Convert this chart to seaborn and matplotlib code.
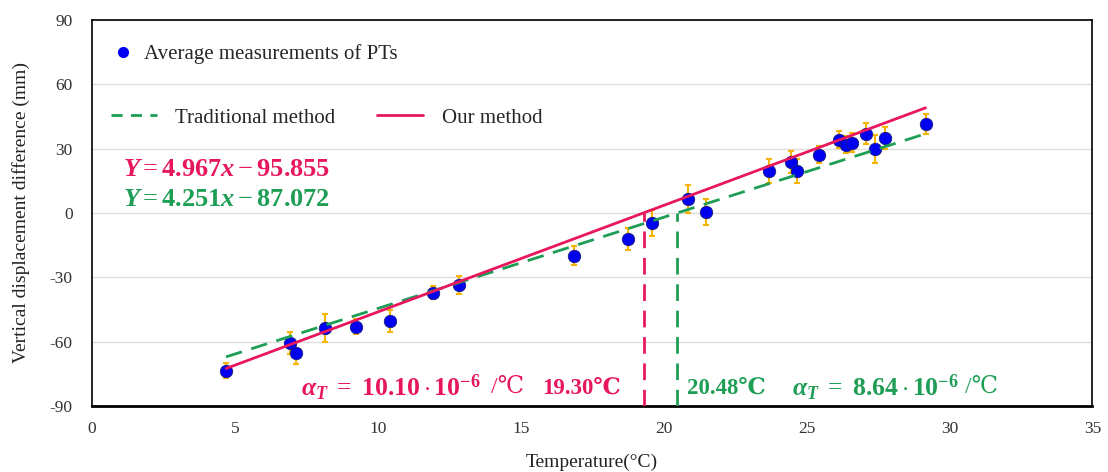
import matplotlib
matplotlib.use("Agg")
import matplotlib.pyplot as plt
import numpy as np
import pandas as pd
import seaborn as sns

# data
temp = [4.69, 6.92, 7.13, 8.15, 9.23, 10.42, 11.92, 12.83, 16.85, 18.74, 19.58,
        20.84, 21.47, 23.67, 24.44, 24.65, 25.45, 26.15, 26.36, 26.57, 27.06,
        27.38, 27.73, 29.16]
disp = [-73.7, -60.7, -65.3, -53.7, -53.2, -50.4, -37.3, -33.6, -20.0, -12.1, -4.7,
        6.5, 0.5, 19.6, 23.8, 19.6, 27.1, 34.1, 31.7, 32.7, 36.9,
        29.9, 35.0, 41.5]
err = [3.5, 5.0, 5.0, 6.5, 3.5, 5.0, 3.0, 4.0, 4.5, 5.0, 6.0,
       6.5, 6.0, 5.5, 5.0, 5.5, 4.0, 4.0, 4.0, 4.5, 5.0,
       6.5, 5.0, 4.5]

fit_x = [4.69, 29.16]
our_slope, our_icpt = 4.967, -95.855
trad_slope, trad_icpt = 4.251, -87.072
our_zero = 19.30
trad_zero = 20.48

pink = "#E8175D"
green = "#1E9E55"
blue = "#0000F0"
gold = "#F5B400"

sns.set_style("white")
plt.rcParams["font.family"] = ["Liberation Serif", "DejaVu Serif", "Noto Sans CJK SC"]
plt.rcParams["axes.unicode_minus"] = False
plt.rcParams["mathtext.fontset"] = "custom"
plt.rcParams["mathtext.rm"] = "Liberation Serif"
plt.rcParams["mathtext.it"] = "Liberation Serif:italic"
plt.rcParams["mathtext.bf"] = "Liberation Serif:bold"
plt.rcParams["mathtext.bfit"] = "Liberation Serif:bold:italic"

fig = plt.figure(figsize=(11.08, 4.72), dpi=100)
ax = fig.add_axes([0.083, 0.14, 0.903, 0.818])

df = pd.DataFrame({"Temperature": temp, "Disp": disp, "err": err})
lines = pd.DataFrame({
    "x": fit_x * 2,
    "y": [our_slope * v + our_icpt for v in fit_x] + [trad_slope * v + trad_icpt for v in fit_x],
    "method": ["Our method"] * 2 + ["Traditional method"] * 2,
})

ax.errorbar(df["Temperature"], df["Disp"], yerr=df["err"], fmt="none",
            ecolor=gold, elinewidth=1.5, capsize=2.5, capthick=1.5, zorder=2)
sns.scatterplot(data=df, x="Temperature", y="Disp", ax=ax, color=blue, s=80,
                edgecolor="#1a1a80", linewidth=0.6, zorder=3, legend=False)
trad = lines[lines["method"] == "Traditional method"]
ours = lines[lines["method"] == "Our method"]
sns.lineplot(data=trad, x="x", y="y", ax=ax, color=green, lw=2, zorder=4,
             linestyle=(0, (6, 3.5)))
sns.lineplot(data=ours, x="x", y="y", ax=ax, color=pink, lw=2, zorder=4)

# vertical drops to the axis
ax.plot([our_zero, our_zero], [-90, 0], color=pink, lw=2, linestyle=(0, (6, 3.5)), zorder=4)
ax.plot([trad_zero, trad_zero], [-90, 0], color=green, lw=2, linestyle=(0, (6, 3.5)), zorder=4)

ax.set_xlim(0, 35)
ax.set_ylim(-90, 90)
ax.set_xticks(np.arange(0, 36, 5))
ax.set_yticks(np.arange(-90, 91, 30))
ax.yaxis.grid(True, color="#dddddd", lw=1)
ax.set_axisbelow(True)
for s in ax.spines.values():
    s.set_color("black")
    s.set_linewidth(1.2)
ax.spines["bottom"].set_linewidth(2)
ax.tick_params(axis="x", labelsize=12.5, colors="#333333", length=0, pad=11)
ax.tick_params(axis="y", labelsize=12.5, colors="#333333", length=0, pad=14)
ax.set_xlabel("Temperature(°C)", fontsize=14, color="#222222", labelpad=12)
ax.set_ylabel("Vertical displacement difference (mm)", fontsize=14, color="#222222", labelpad=14)

# legends
h_pts = plt.Line2D([], [], marker="o", ls="none", color=blue, markersize=7)
leg1 = ax.legend([h_pts], ["Average measurements of PTs"], loc="upper left",
                 bbox_to_anchor=(0.0, 0.985), frameon=False, fontsize=15,
                 handletextpad=0.4, handlelength=1.2)
ax.add_artist(leg1)
h_trad = plt.Line2D([], [], color=green, lw=2, ls=(0, (4, 3)))
h_ours = plt.Line2D([], [], color=pink, lw=2)
ax.legend([h_trad, h_ours], ["Traditional method", "Our method"], loc="upper left",
          bbox_to_anchor=(0.0, 0.82), ncol=2, frameon=False, fontsize=15,
          handlelength=2.2, handletextpad=0.9, columnspacing=2.0)

# equations and annotations
ax.text(1.1, 20, r"$\mathbfit{Y} = \mathbf{4.967}\mathbfit{x} - \mathbf{95.855}$",
        color=pink, fontsize=19, va="center")
ax.text(1.1, 6, r"$\mathbfit{Y} = \mathbf{4.251}\mathbfit{x} - \mathbf{87.072}$",
        color=green, fontsize=19, va="center")
ax.text(7.3, -81.5, r"$\mathbfit{\alpha_T}\ =\ \mathbf{10.10\cdot 10^{-6}}$",
        color=pink, fontsize=18.5, va="center")
ax.text(13.95, -81.5, "/℃", color=pink, fontsize=17, va="center")
ax.text(15.75, -81.5, "19.30℃", color=pink, fontsize=16.5, va="center", fontweight="bold")
ax.text(20.8, -81.5, "20.48℃", color=green, fontsize=16.5, va="center", fontweight="bold")
ax.text(24.5, -81.5, r"$\mathbfit{\alpha_T}\ =\ \mathbf{8.64\cdot 10^{-6}}$",
        color=green, fontsize=18.5, va="center")
ax.text(30.55, -81.5, "/℃", color=green, fontsize=17, va="center")

fig.savefig("out.png", dpi=100)
